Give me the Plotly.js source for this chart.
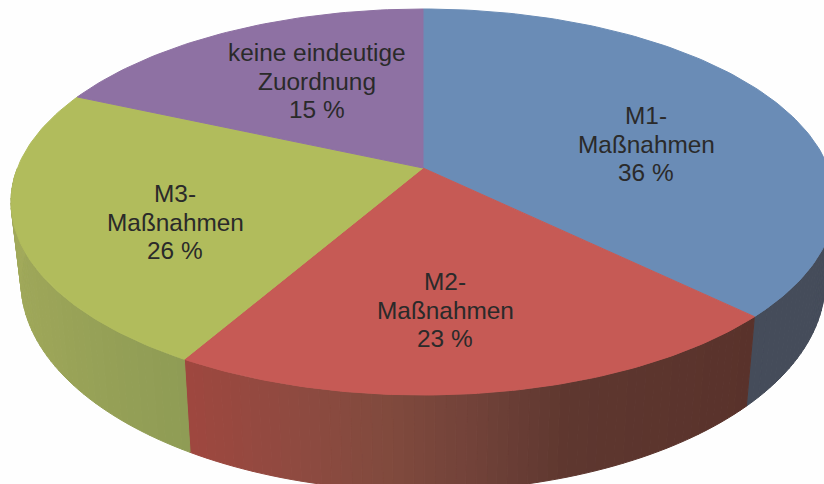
<!DOCTYPE html>
<html>
<head>
<meta charset="utf-8">
<script src="https://cdn.plot.ly/plotly-3.0.1.min.js"></script>
<style>html,body{margin:0;padding:0;background:#fefefe}#chart{width:824px;height:484px}</style>
</head>
<body>
<div id="chart"></div>
<script>
// Data
const categories = ["M1-\nMaßnahmen", "M2-\nMaßnahmen", "M3-\nMaßnahmen", "keine eindeutige\nZuordnung"];
const shares = [36, 23, 26, 15];

// Styles
const topColors = ["#6a8cb6", "#c65a55", "#b1bc5c", "#8e71a3"];
const sideStops = [
  [[0, "#454c5a"], [1, "#454c5a"]],
  [[0, "#9f473f"], [0.2, "#8e4a40"], [0.35, "#804a3d"], [0.48, "#714239"], [0.63, "#5e372f"], [1, "#59322b"]],
  [[0, "#8f9c55"], [0.5, "#9ca558"], [1, "#a3ab5c"]],
  [[0, "#7a6390"], [1, "#7a6390"]]
];
const labelCentres = [[646, 144], [445, 310], [175, 222], [317, 81]];
const linePitch = 28.5;

// Projection of the pie: a perspective view with a lower, narrower rim
const view = {
  cx: 423, apexY: 168, stretch: 1.12,
  top: {cy: 202, a: 412, b: 193},
  bottom: {cy: 282, a: 402, b: 209},
  sideFrom: 80, sideTo: 280
};

const rad = d => d * Math.PI / 180;
function viewAngle(theta) {           // theta in degrees clockwise from 12 o'clock
  let p = Math.atan2(view.stretch * Math.sin(rad(theta)), Math.cos(rad(theta))) * 180 / Math.PI;
  if (p < 0) p += 360;
  return p;
}
function rim(e, phi) {
  return [view.cx + e.a * Math.sin(rad(phi)), e.cy - e.b * Math.cos(rad(phi))];
}
function hexToRgb(h) { return [1, 3, 5].map(i => parseInt(h.substr(i, 2), 16)); }
function shade(stops, f) {
  for (let i = 1; i < stops.length; i++) {
    if (f <= stops[i][0]) {
      const t = (f - stops[i - 1][0]) / (stops[i][0] - stops[i - 1][0]);
      const a = hexToRgb(stops[i - 1][1]), b = hexToRgb(stops[i][1]);
      return "rgb(" + a.map((v, k) => Math.round(v + (b[k] - v) * t)).join(",") + ")";
    }
  }
  return stops[stops.length - 1][1];
}

const total = shares.reduce((s, v) => s + v, 0);
const bounds = [0];
shares.forEach((v, i) => bounds.push(bounds[i] + v / total * 360));
const phiBounds = bounds.map((b, i) => i === 0 ? 0 : i === shares.length ? 360 : viewAngle(b));

const traces = [];
function polygon(xs, ys, color) {
  traces.push({
    type: "scatter", mode: "lines", x: xs, y: ys, fill: "toself", fillcolor: color,
    line: {color: color, width: 1}, hoverinfo: "skip", showlegend: false
  });
}

// Side wall, strip by strip
shares.forEach((v, i) => {
  const from = Math.max(phiBounds[i], view.sideFrom), to = Math.min(phiBounds[i + 1], view.sideTo);
  if (to <= from) return;
  const n = Math.max(2, Math.ceil((to - from) / 1.5));
  for (let k = 0; k < n; k++) {
    const p0 = from + (to - from) * k / n, p1 = from + (to - from) * (k + 1) / n;
    const a = rim(view.top, p0), b = rim(view.top, p1), c = rim(view.bottom, p1), d = rim(view.bottom, p0);
    // the M2 stops run from the picture's left to its right, the M3 stops from right to left
    const mid = (k + 0.5) / n;
    polygon([a[0], b[0], c[0], d[0], a[0]], [a[1], b[1], c[1], d[1], a[1]],
      shade(sideStops[i], i === 1 ? 1 - mid : mid));
  }
});

// Top surface
shares.forEach((v, i) => {
  const xs = [view.cx], ys = [view.apexY];
  const n = Math.ceil(phiBounds[i + 1] - phiBounds[i]);
  for (let k = 0; k <= n; k++) {
    const q = rim(view.top, phiBounds[i] + (phiBounds[i + 1] - phiBounds[i]) * k / n);
    xs.push(q[0]); ys.push(q[1]);
  }
  xs.push(view.cx); ys.push(view.apexY);
  polygon(xs, ys, topColors[i]);
});

// Labels
const annotations = [];
categories.forEach((c, i) => {
  const lines = c.split("\n").concat([shares[i] + " %"]);
  lines.forEach((t, k) => annotations.push({
    x: labelCentres[i][0], y: labelCentres[i][1] + (k - 1) * linePitch,
    xref: "x", yref: "y", text: t, showarrow: false, xanchor: "center", yanchor: "middle",
    font: {family: "Liberation Sans, Arial, sans-serif", size: 24.4, color: "#2a2a2a"}
  }));
});

Plotly.newPlot("chart", traces, {
  width: 824, height: 484,
  margin: {l: 0, r: 0, t: 0, b: 0},
  paper_bgcolor: "#fefefe", plot_bgcolor: "#fefefe",
  showlegend: false, hovermode: false,
  xaxis: {range: [0, 824], visible: false, fixedrange: true},
  yaxis: {range: [484, 0], visible: false, fixedrange: true},
  annotations: annotations
}, {displayModeBar: false, staticPlot: true});
</script>
</body>
</html>
